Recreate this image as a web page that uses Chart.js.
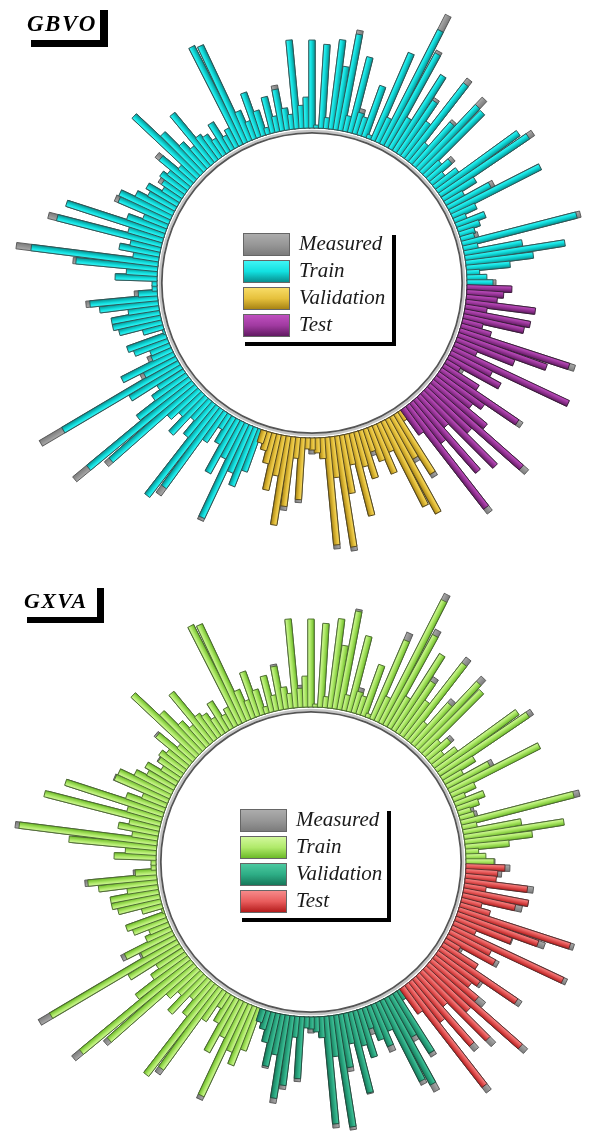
<!DOCTYPE html>
<html>
<head>
<meta charset="utf-8">
<script src="https://cdn.jsdelivr.net/npm/chart.js@4.4.1/dist/chart.umd.min.js"></script>
<style>
  html, body { margin: 0; padding: 0; background: #fff; }
  body { position: relative; width: 589px; height: 1140px; overflow: hidden; }
  canvas { position: absolute; }
  #gbvo { left: -18px; top: -47px; }
  #gxva { left: -19px; top: 532px; }
  .title {
    position: absolute; background: #fff; color: #000;
    font-family: "Liberation Serif", "Times New Roman", serif;
    font-weight: bold; font-style: italic; line-height: 1;
    box-sizing: border-box; padding: 0 0 0 4px; z-index: 2;
  }
  .legend {
    position: absolute; background: #fff; box-shadow: 4px 4px 0 #000; z-index: 2;
    font-family: "Liberation Serif", "Times New Roman", serif; font-style: italic;
    font-size: 21px; color: #1a1a1a;
  }
  .legend .row { position: absolute; left: 2px; height: 23px; white-space: nowrap; }
  .legend .sw { position: absolute; left: 0; top: 0; width: 45px; height: 21px; border: 1px solid #666; }
  .legend .tx { position: absolute; left: 56px; top: -1px; line-height: 23px; }
</style>
</head>
<body>
<canvas id="gbvo" width="660" height="660"></canvas>
<canvas id="gxva" width="660" height="660"></canvas>

<div class="title" style="left:23px; top:3px; width:77px; height:37px; box-shadow:8px 7px 0 #000; font-size:23px; letter-spacing:1.5px; padding-top:9px;">GBVO</div>
<div class="title" style="left:20px; top:582px; width:77px; height:35px; box-shadow:7px 6px 0 #000; font-size:22px; letter-spacing:1.3px; padding-top:8px;">GXVA</div>

<div class="legend" id="leg1" style="left:241px; top:231px; width:151px; height:111px;"></div>
<div class="legend" id="leg2" style="left:238px; top:807px; width:149px; height:111px;"></div>

<script>
// Measured target, one value per sample; train, validation and test subsets in order.
const measuredTrain = [
  29, 19, 12, 43, 67, 100, 58, 14, 122, 18,
  16, 22, 30, 12, 25, 100, 52, 20, 37, 112,
  99, 28, 15, 33, 20, 85, 97, 60, 24, 102,
  42, 67, 89, 35, 109, 145, 26, 94, 3, 53,
  18, 26, 77, 15, 102, 63, 89, 10, 83, 2,
  87, 30, 22, 88, 14, 21, 46, 15, 36, 6,
  25, 46, 18, 31, 106, 109, 20, 15, 33, 18,
  26, 30, 63, 25, 35, 55, 88, 20, 46, 25,
  30, 29, 20, 35, 30, 41, 56, 59, 25, 40,
  102, 35, 117, 30, 40, 25, 143, 85, 30, 41,
  4, 4, 23, 72, 58, 30, 48, 48, 43, 20,
  1, 40, 35, 20, 26, 57, 40, 160, 59, 30,
  40, 64, 153, 119, 40, 30, 50, 25, 42, 113,
  106, 35, 16, 30, 60, 40, 107, 50, 62, 44
];
const measuredValidation = [
  12, 18, 30, 56, 40, 89, 74, 20, 65, 10,
  16, 14, 20, 112, 40, 116, 58, 30, 84, 35,
  49, 28, 35, 51, 30, 94, 106, 52, 74, 10
];
const measuredTest = [
  30, 135, 50, 95, 40, 103, 60, 131, 69, 45,
  55, 98, 40, 20, 58, 45, 127, 23, 61, 93,
  121, 30, 20, 61, 66, 21, 69, 30, 36, 44
];

// GBVO predictions
const gbvoTrain = [
  26, 20, 13, 44, 68, 101, 59, 15, 118, 14,
  16, 23, 31, 13, 26, 101, 48, 21, 38, 106,
  100, 29, 16, 29, 21, 86, 87, 57, 25, 96,
  43, 64, 90, 36, 106, 128, 27, 95, 4, 54,
  19, 22, 78, 16, 98, 64, 90, 11, 84, 3,
  88, 31, 23, 89, 15, 22, 42, 16, 37, 7,
  26, 47, 19, 32, 107, 110, 21, 16, 34, 19,
  27, 31, 64, 26, 36, 56, 89, 21, 41, 26,
  31, 25, 21, 36, 31, 42, 57, 55, 26, 41,
  103, 36, 108, 31, 41, 26, 128, 82, 31, 42,
  5, 5, 19, 68, 59, 31, 49, 49, 44, 21,
  2, 41, 36, 21, 22, 58, 36, 134, 60, 31,
  41, 65, 135, 113, 41, 31, 51, 26, 43, 114,
  97, 36, 17, 31, 61, 41, 104, 51, 63, 45
];
const gbvoValidation = [
  13, 19, 31, 57, 41, 90, 70, 21, 62, 11,
  12, 15, 21, 108, 41, 112, 59, 31, 85, 36,
  50, 24, 36, 52, 31, 95, 107, 48, 70, 11
];
const gbvoTest = [
  31, 129, 51, 96, 41, 104, 61, 124, 70, 46,
  56, 93, 41, 16, 59, 46, 128, 24, 62, 94,
  115, 31, 21, 62, 67, 22, 70, 31, 37, 45
];

// GXVA predictions
const gxvaTrain = [
  28, 20, 13, 44, 68, 101, 59, 15, 116, 15,
  13, 23, 31, 13, 26, 101, 48, 21, 38, 107,
  100, 29, 16, 29, 21, 86, 90, 55, 25, 95,
  43, 62, 90, 36, 103, 138, 27, 86, 4, 54,
  19, 22, 78, 16, 100, 64, 90, 11, 84, 3,
  88, 31, 19, 89, 15, 22, 44, 16, 37, 7,
  26, 47, 19, 32, 107, 110, 21, 16, 34, 19,
  27, 31, 64, 26, 36, 56, 89, 21, 44, 26,
  31, 28, 21, 36, 31, 42, 57, 58, 26, 41,
  103, 36, 120, 31, 41, 26, 139, 88, 31, 42,
  5, 5, 21, 69, 59, 31, 49, 49, 44, 21,
  2, 41, 36, 21, 27, 53, 38, 147, 60, 31,
  41, 65, 143, 114, 41, 31, 51, 26, 43, 114,
  100, 36, 17, 31, 61, 41, 103, 51, 63, 45
];
const gxvaValidation = [
  13, 19, 31, 54, 41, 84, 70, 21, 62, 11,
  12, 15, 21, 108, 41, 113, 54, 31, 83, 36,
  50, 22, 36, 45, 31, 90, 98, 47, 70, 11
];
const gxvaTest = [
  31, 128, 51, 88, 41, 95, 61, 124, 60, 46,
  52, 93, 41, 17, 54, 46, 123, 24, 60, 86,
  117, 31, 21, 54, 66, 22, 63, 31, 32, 39
];

const seriesNames = ['Measured', 'Train', 'Validation', 'Test'];

// colour ramps: [light edge, body, dark edge, outline]
const measuredColors = ['#acacac', '#979797', '#7c7c7c', '#585858'];
const gbvoColors = [
  ['#3ff5f5', '#12e0e0', '#078f8f', '#2c5656'],
  ['#f7dc66', '#e6c13c', '#a88414', '#54461c'],
  ['#c050c0', '#a03aa0', '#621a62', '#3a1c3a']
];
const gxvaColors = [
  ['#d2f89c', '#b0ea6a', '#6cba28', '#4c6c2e'],
  ['#4cc9a0', '#2dad85', '#17785a', '#1e4a3c'],
  ['#f58a8a', '#e85c5c', '#b41c1c', '#5c2c2c']
];

const nTrain = measuredTrain.length, nVal = measuredValidation.length, nTest = measuredTest.length;
const nAll = nTrain + nVal + nTest;
const blank = n => new Array(n).fill(null);
// samples run counter-clockwise from 3 o'clock; the radar scale runs clockwise, so feed it reversed
const rev = a => a.slice().reverse();
const labels = rev(Array.from({ length: nAll }, (_, i) => 'S' + (i + 1)));

const BAR_WIDTH = 6.4;
const RING_GAP = 4;

function barGradient(ctx, c) {
  const g = ctx.createLinearGradient(0, -BAR_WIDTH / 2, 0, BAR_WIDTH / 2);
  g.addColorStop(0, c[0]);
  g.addColorStop(0.4, c[1]);
  g.addColorStop(1, c[2]);
  return g;
}

const radialBars = {
  id: 'radialBars',
  beforeDatasetsDraw(chart) {
    const s = chart.scales.r, ctx = chart.ctx;
    const r = s.getDistanceFromCenterForValue(-RING_GAP);
    ctx.save();
    ctx.beginPath();
    ctx.arc(s.xCenter, s.yCenter, r + 1.2, 0, Math.PI * 2);
    ctx.strokeStyle = '#c4c4c4';
    ctx.lineWidth = 2.2;
    ctx.stroke();
    ctx.beginPath();
    ctx.arc(s.xCenter, s.yCenter, r - 0.8, 0, Math.PI * 2);
    ctx.strokeStyle = '#555';
    ctx.lineWidth = 1.8;
    ctx.stroke();
    ctx.restore();
  },
  afterDatasetsDraw(chart) {
    const s = chart.scales.r, ctx = chart.ctx;
    const r0 = s.getDistanceFromCenterForValue(0);
    chart.data.datasets.forEach((ds, d) => {
      const meta = chart.getDatasetMeta(d);
      meta.data.forEach((pt, i) => {
        const v = ds.data[i];
        if (v === null || v === undefined) return;
        const base = s.getPointPositionForValue(i, 0);
        const len = Math.hypot(pt.x - base.x, pt.y - base.y);
        const ang = s.getIndexAngle(i) - Math.PI / 2;
        ctx.save();
        ctx.translate(s.xCenter, s.yCenter);
        ctx.rotate(ang);
        ctx.beginPath();
        ctx.rect(r0, -BAR_WIDTH / 2, len, BAR_WIDTH);
        ctx.fillStyle = barGradient(ctx, ds.ramp);
        ctx.fill();
        ctx.lineWidth = 0.9;
        ctx.strokeStyle = ds.ramp[3];
        ctx.stroke();
        ctx.restore();
      });
    });
  }
};

function build(canvasId, train, validation, test, colors) {
  const measured = measuredTrain.concat(measuredValidation, measuredTest);
  const datasets = [
    { label: seriesNames[0], data: rev(measured), ramp: measuredColors },
    { label: seriesNames[1], data: rev(train.concat(blank(nVal + nTest))), ramp: colors[0] },
    { label: seriesNames[2], data: rev(blank(nTrain).concat(validation, blank(nTest))), ramp: colors[1] },
    { label: seriesNames[3], data: rev(blank(nTrain + nVal).concat(test)), ramp: colors[2] }
  ];
  return new Chart(document.getElementById(canvasId), {
    type: 'radar',
    data: { labels, datasets },
    options: {
      responsive: false,
      animation: false,
      devicePixelRatio: 1,
      events: [],
      layout: { padding: 0 },
      showLine: false,
      elements: { point: { radius: 0, hoverRadius: 0 }, line: { borderWidth: 0, fill: false } },
      plugins: { legend: { display: false }, tooltip: { enabled: false } },
      scales: {
        r: {
          min: -155, max: 175,
          startAngle: 90 + 360 / nAll,
          ticks: { display: false },
          grid: { display: false },
          angleLines: { display: false },
          pointLabels: { display: false }
        }
      }
    },
    plugins: [radialBars]
  });
}

function buildLegend(id, colors) {
  const box = document.getElementById(id);
  const ramps = [measuredColors].concat(colors);
  const tops = [2, 29, 56, 83];
  seriesNames.forEach((name, k) => {
    const row = document.createElement('div');
    row.className = 'row';
    row.style.top = tops[k] + 'px';
    const sw = document.createElement('div');
    sw.className = 'sw';
    sw.style.background = 'linear-gradient(to bottom,' + ramps[k][0] + ',' + ramps[k][1] + ' 50%,' + ramps[k][2] + ')';
    const tx = document.createElement('span');
    tx.className = 'tx';
    tx.textContent = name;
    row.appendChild(sw);
    row.appendChild(tx);
    box.appendChild(row);
  });
}

build('gbvo', gbvoTrain, gbvoValidation, gbvoTest, gbvoColors);
build('gxva', gxvaTrain, gxvaValidation, gxvaTest, gxvaColors);
buildLegend('leg1', gbvoColors);
buildLegend('leg2', gxvaColors);
</script>
</body>
</html>
